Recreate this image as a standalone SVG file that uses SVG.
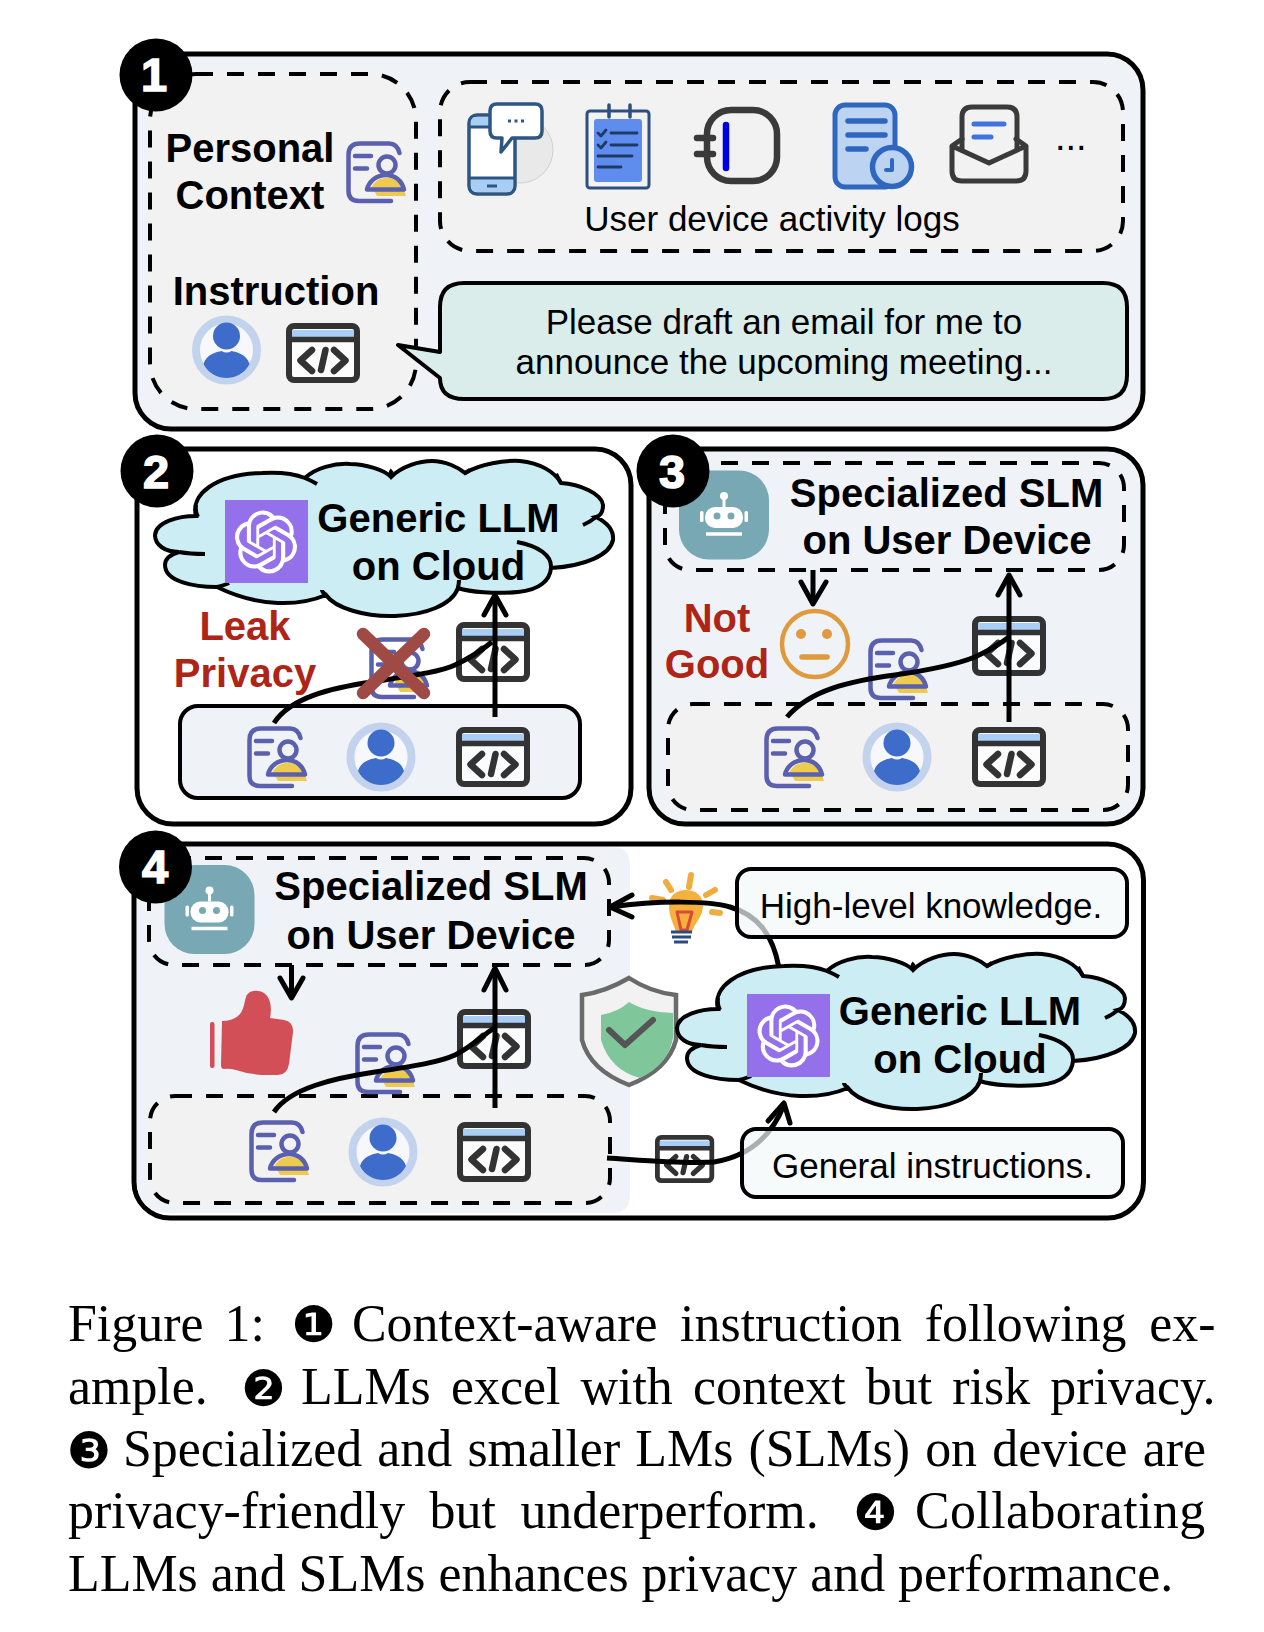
<svg xmlns="http://www.w3.org/2000/svg" width="1264" height="1632" viewBox="0 0 1264 1632">
<style>
.panel{stroke:#000;stroke-width:5}
.dash{stroke:#000;stroke-width:4;stroke-dasharray:17 14;fill:none}
.b{font:bold 40px "Liberation Sans",Arial,sans-serif;fill:#000;text-anchor:middle}
.r{font:35px "Liberation Sans",Arial,sans-serif;fill:#000;text-anchor:middle}
.red{fill:#ae2417}
.num{font:bold 47px "Liberation Sans",Arial,sans-serif;fill:#fff;stroke:#fff;stroke-width:1.5;text-anchor:middle}
.cap{font:51.9px "Liberation Serif","Times New Roman",serif;fill:#000}
.cir{font:50px "DejaVu Sans",sans-serif;fill:#000}
.con{fill:none;stroke:#000;stroke-width:5}
.arr{fill:none;stroke:#000;stroke-width:5;stroke-linecap:round;stroke-linejoin:round}
.ln{fill:none;stroke-linecap:round;stroke-linejoin:round}
</style>
<defs>
<g id="persona">
<path d="M27 48 C31 40 36 37 42 37 C50 37 57 44 60 55 H31 Z" fill="#eecb4d"/>
<path class="ln" d="M53.500 12 C52 6 48 2.500 43 2.500 H14 Q2.500 2.500 2.500 14 V50 Q2.500 60 13 60 H45" stroke="#5b60ae" stroke-width="4.500"/>
<path class="ln" d="M9 15 H25 M9 27.500 H21" stroke="#5b60ae" stroke-width="4.500"/>
<circle cx="41" cy="24" r="8.500" fill="none" stroke="#5b60ae" stroke-width="4.500"/>
<path d="M25 47 C28 41 33 37 40 37 C47 37 52 41 55 47 Z" fill="#eecb4d"/>
<path class="ln" d="M21 48.500 C23 40 31 34 40 34 C49 34 56 40 58 48.500 Z" fill="none" stroke="#5b60ae" stroke-width="4.500"/>
</g>
<g id="person">
<circle r="30.500" fill="#f7f8fb" stroke="#c3d3ee" stroke-width="8"/>
<circle cy="-14" r="13.500" fill="#3e6ccb"/>
<path d="M-23 14 C-20 4 -10 2 -5 1 Q0 4 5 1 C10 2 20 4 23 14 C18 24 8 28 0 28 C-8 28 -18 24 -23 14Z" fill="#3e6ccb"/>
</g>
<g id="code">
<rect x="3" y="3" width="68" height="54" rx="5" fill="#fff" fill-opacity=".75" stroke="#333" stroke-width="6"/>
<rect x="6" y="7" width="62" height="7" fill="#a9cef5"/>
<path d="M3 16.500 H71" stroke="#333" stroke-width="5.500"/>
<path class="ln" d="M26 27 L14.500 37.500 L26 48 M48 27 L59.500 37.500 L48 48" stroke="#333" stroke-width="6.500"/>
<path class="ln" d="M39.500 27 L35 47" stroke="#333" stroke-width="6.500"/>
</g>
<g id="cloud">
<path d="M155 535 C156 522 178 516 196 516 C190 495 215 474 262 473 C280 472 295 474 305 478 C315 468 335 463 350 464 C365 464 385 470 391 477 C402 466 420 461 432 461 C445 461 458 467 465 473 C480 464 505 460 520 461 C540 463 555 472 561 483 C580 484 602 494 603 505 C603 512 600 516 596 517 C606 522 614 530 613 540 C610 555 585 566 551 568 C550 580 540 590 518 592 C495 594 470 592 458 588 C452 605 425 615 395 616 C365 617 335 608 326 595 C300 606 260 608 217 587 C195 587 165 582 165 565 C165 558 172 554 179 552 C165 552 155 545 155 535Z" fill="#cdedf4" stroke="#000" stroke-width="4"/>
<path d="M196 505 Q195 512 198 517 M305 478 Q312 481 317 484 M391 477 Q390 472 392 470 M465 473 L470 470 M561 483 Q558 478 556 474 M596 517 Q590 522 583 525 M551 568 C552 555 538 546 517 542 M458 588 Q459 583 459 580 M326 595 Q322 592 322 590 M217 587 Q225 585 229 583 M179 552 Q190 554 205 554" fill="none" stroke="#000" stroke-width="4"/>
</g>
<g id="oai">
<path transform="scale(2.620) translate(-12 -12)" fill="#fff" d="M22.2819 9.8211a5.9847 5.9847 0 0 0-.5157-4.9108 6.0462 6.0462 0 0 0-6.5098-2.9A6.0651 6.0651 0 0 0 4.9807 4.1818a5.9847 5.9847 0 0 0-3.9977 2.9 6.0462 6.0462 0 0 0 .7427 7.0966 5.98 5.98 0 0 0 .511 4.9107 6.051 6.051 0 0 0 6.5146 2.9001A5.9847 5.9847 0 0 0 13.2599 24a6.0557 6.0557 0 0 0 5.7718-4.2058 5.9894 5.9894 0 0 0 3.9977-2.9001 6.0557 6.0557 0 0 0-.7475-7.0729zm-9.022 12.6081a4.4755 4.4755 0 0 1-2.8764-1.0408l.1419-.0804 4.7783-2.7582a.7948.7948 0 0 0 .3927-.6813v-6.7369l2.02 1.1686a.071.071 0 0 1 .038.052v5.5826a4.504 4.504 0 0 1-4.4945 4.4944zm-9.6607-4.1254a4.4708 4.4708 0 0 1-.5346-3.0137l.142.0852 4.783 2.7582a.7712.7712 0 0 0 .7806 0l5.8428-3.3685v2.3324a.0804.0804 0 0 1-.0332.0615L9.74 19.9502a4.4992 4.4992 0 0 1-6.1408-1.6464zM2.3408 7.8956a4.485 4.485 0 0 1 2.3655-1.9728V11.6a.7664.7664 0 0 0 .3879.6765l5.8144 3.3543-2.0201 1.1685a.0757.0757 0 0 1-.071 0l-4.8303-2.7865A4.504 4.504 0 0 1 2.3408 7.872zm16.5963 3.8558L13.1038 8.364 15.1192 7.2a.0757.0757 0 0 1 .071 0l4.8303 2.7913a4.4944 4.4944 0 0 1-.6765 8.1042v-5.6772a.79.79 0 0 0-.407-.667zm2.0107-3.0231l-.142-.0852-4.7735-2.7818a.7759.7759 0 0 0-.7854 0L9.409 9.2297V6.8974a.0662.0662 0 0 1 .0284-.0615l4.8303-2.7866a4.4992 4.4992 0 0 1 6.6802 4.66zM8.3065 12.863l-2.02-1.1638a.0804.0804 0 0 1-.038-.0567V6.0742a4.4992 4.4992 0 0 1 7.3757-3.4537l-.142.0805L8.704 5.459a.7948.7948 0 0 0-.3927.6813zm1.0976-2.3654l2.602-1.4998 2.6069 1.4998v2.9994l-2.5974 1.4997-2.6067-1.4997Z"/>
</g>
<g id="robot">
<rect x="-45" y="-44.500" width="90" height="89" rx="30" fill="#78a8b3"/>
<circle cy="-19" r="4" fill="#fff"/>
<path d="M0 -17 V-8" stroke="#fff" stroke-width="3"/>
<rect x="-19" y="-8" width="38" height="21" rx="10" fill="#fff"/>
<circle cx="-7" cy="1" r="3.500" fill="#78a8b3"/>
<circle cx="7" cy="1" r="3.500" fill="#78a8b3"/>
<rect x="-24" y="-4" width="3.500" height="11" rx="1.500" fill="#fff"/>
<rect x="20.500" y="-4" width="3.500" height="11" rx="1.500" fill="#fff"/>
<path d="M-18 19 H18" stroke="#fff" stroke-width="3.500"/>
</g>
</defs>

<g id="panel-1">
<rect class="panel" x="135" y="54" width="1008" height="375" rx="36" fill="#eff3f8"/>
<rect class="dash" x="150" y="74" width="266" height="335" rx="46" style="fill:#f2f2f2"/>
<rect class="dash" x="440" y="82" width="683" height="169" rx="30" style="fill:#f2f2f2"/>
<text class="b" x="250" y="162">Personal</text>
<text class="b" x="250" y="209">Context</text>
<text class="b" x="276" y="305">Instruction</text>
<use href="#persona" x="346" y="141"/>
<use href="#person" x="226.500" y="350"/>
<use href="#code" x="286" y="323"/>
</g>
<g id="logs-icons">
<circle cx="520" cy="150" r="33" fill="#e9e9e9" stroke="#d0d0d0"/>
<rect x="469" y="115" width="46" height="79" rx="8" fill="#fff" stroke="#2d5682" stroke-width="3.500"/>
<path d="M471 126 V122 Q471 117 476 117 H491 V126 Z M471 179 H513 V186 Q513 192 507 192 H477 Q471 192 471 186 Z" fill="#a9cef5"/>
<path d="M469 127 H491 M469 178 H515 M487 186 H497" stroke="#2d5682" stroke-width="3"/>
<path d="M497 104 H535 Q542 104 542 111 V131 Q542 138 535 138 H512 L501 152 L502 138 H497 Q490 138 490 131 V111 Q490 104 497 104 Z" fill="#fff" stroke="#2d5682" stroke-width="3.500" stroke-linejoin="round"/>
<path d="M508 121 H525" stroke="#2d5682" stroke-width="3" stroke-dasharray="3 3.500"/>
<rect x="587" y="111" width="62" height="77" rx="3" fill="#f2f2f2" stroke="#2d4f7e" stroke-width="3"/>
<rect x="594" y="119" width="48" height="63" rx="3" fill="#5f8ded"/>
<path class="ln" d="M609 105 V117 M630 105 V117" stroke="#2d4f7e" stroke-width="3.500"/>
<path class="ln" d="M611 133 H637 M611 145 H637 M598 156 H632 M598 167 H621 M598 133 L601 136 L606 130 M598 145 L601 148 L606 142" stroke="#1f3a66" stroke-width="2.800"/>
<rect x="707" y="110" width="70" height="71" rx="24" fill="none" stroke="#3a3a3a" stroke-width="6.500"/>
<path class="ln" d="M697 138 H713 M697 154 H713" stroke="#3a3a3a" stroke-width="6.500"/>
<path class="ln" d="M726 125 V168" stroke="#0000e0" stroke-width="6.500"/>
<rect x="835" y="105" width="60" height="82" rx="10" fill="#bcd3f2" stroke="#2f67bf" stroke-width="5"/>
<path class="ln" d="M848 121 H885 M848 135 H885 M848 149 H866" stroke="#2f67bf" stroke-width="5.500"/>
<circle cx="892" cy="167" r="19.500" fill="#bcd3f2" stroke="#2f67bf" stroke-width="5.500"/>
<path class="ln" d="M892 160 V170 H886" stroke="#2f67bf" stroke-width="4"/>
<path class="ln" d="M962 139 L952 146 V171 Q952 181 962 181 H1016 Q1026 181 1026 171 V146 L1016 139 M952 146 L989 163 L1026 146" stroke="#3a3a3a" stroke-width="5"/>
<path class="ln" d="M962 150 V117 Q962 107 972 107 H1007 Q1017 107 1017 117 V150" stroke="#3a3a3a" stroke-width="5"/>
<path class="ln" d="M974 124 H1004 M974 137 H991" stroke="#3f74e0" stroke-width="5"/>
<text x="1055" y="150" style="font:38px 'Liberation Sans',sans-serif" fill="#000">...</text>
<text class="r" x="772" y="231">User device activity logs</text>
</g>
<g id="speech-bubble">
<path d="M464 283 H1103 Q1127 283 1127 307 V375 Q1127 399 1103 399 H464 Q440 399 440 378 L398 345 L440 352 V307 Q440 283 464 283 Z" fill="#daedea" stroke="#000" stroke-width="4" stroke-linejoin="round"/>
<text class="r" x="784" y="334">Please draft an email for me to</text>
<text class="r" x="784" y="374">announce the upcoming meeting...</text>
</g>

<g id="panel-2">
<rect class="panel" x="137" y="449" width="494" height="375" rx="36" fill="#fff"/>
<rect x="180" y="706" width="400" height="92" rx="18" fill="#eff3f8" stroke="#000" stroke-width="4"/>
<use href="#persona" x="247" y="726"/>
<use href="#person" x="381" y="757"/>
<use href="#code" x="456" y="727"/>
<use href="#persona" x="369" y="637"/>
<use href="#code" x="456" y="622"/>
</g>
<g id="panel-3">
<rect class="panel" x="649" y="449" width="494" height="375" rx="36" fill="#eff3f8"/>
<rect class="dash" x="665" y="463" width="459" height="107" rx="25"/>
<use href="#robot" x="724" y="515"/>
<text class="b" x="946.500" y="507">Specialized SLM</text>
<text class="b" x="947" y="554">on User Device</text>
<text class="b red" x="717" y="632">Not</text>
<text class="b red" x="717" y="678">Good</text>
<circle cx="815" cy="644" r="33" fill="none" stroke="#e09a3e" stroke-width="4.500"/>
<circle cx="801" cy="634" r="5" fill="#e09a3e"/>
<circle cx="827" cy="634" r="5" fill="#e09a3e"/>
<path class="ln" d="M802 657 H827" stroke="#e09a3e" stroke-width="5.500"/>
<rect class="dash" x="668" y="704" width="460" height="106" rx="25" style="fill:#f2f2f2"/>
<use href="#persona" x="764" y="726"/>
<use href="#person" x="897" y="757"/>
<use href="#code" x="972" y="727"/>
<use href="#persona" x="868" y="638"/>
<use href="#code" x="972" y="616"/>
</g>
<g id="panel-4">
<rect class="panel" x="134" y="844" width="1009.500" height="374" rx="36" fill="#fff"/>
<path d="M137 847 H612 Q630 847 630 865 V1195 Q630 1213 612 1213 H170 Q137 1213 137 1180 Z" fill="#eff3f8"/>
<rect class="dash" x="149" y="858" width="460" height="107" rx="25"/>
<use href="#robot" x="209.500" y="909.500"/>
<text class="b" x="431" y="900">Specialized SLM</text>
<text class="b" x="431" y="949">on User Device</text>
<path d="M222 1021 Q232 1021 238 1016 C244 1011 244 1003 246 997 C248 990 258 989 264 993 C271 998 272 1008 270 1018 L284 1020 Q294 1022 293 1032 L289 1064 Q287 1075 278 1075 H269 Q250 1075 236 1070 Q228 1068 224 1069 Q221 1069 221 1065 Z" fill="#d34f57"/>
<rect x="210" y="1022" width="4.500" height="46" rx="2" fill="#d34f57"/>
<rect class="dash" x="150" y="1096" width="460" height="107" rx="25" style="fill:#f2f2f2"/>
<use href="#persona" x="249" y="1120"/>
<use href="#person" x="383" y="1152"/>
<use href="#code" x="457" y="1122"/>
<use href="#persona" x="355" y="1032"/>
<use href="#code" x="457" y="1009"/>
</g>
<g id="shield">
<path d="M629 978 Q605 992 582 995 V1040 Q590 1070 629 1085 Q668 1070 676 1040 V995 Q650 992 629 978 Z" fill="#f2f2f2" stroke="#6a6a6a" stroke-width="4.500"/>
<path d="M601 1015 Q618 1012 629 1002 Q645 1012 673 1013 V1038 Q668 1065 640 1078 Q610 1070 601 1040 Z" fill="#7fc79b"/>
<path class="ln" d="M609 1030 L625 1045 L653 1020" stroke="#555" stroke-width="6"/>
</g>
<g id="bulb">
<path class="ln" d="M666 882 L671 890 M691 875 L689 887 M715 890 L706 895 M652 898 L663 900 M712 912 L720 913" stroke="#f0ad3e" stroke-width="6"/>
<path d="M669 905 C669 885 703 885 703 905 C703 917 695 922 692 932 H676 C673 922 669 917 669 905 Z" fill="#f5b13c"/>
<path class="ln" d="M677 912 H692 L687 930 H681 Z" stroke="#d94a3a" stroke-width="3"/>
<path d="M671 932 H692 M672 937 H691 M674 942 H688" stroke="#2b4a80" stroke-width="3"/>
</g>
<g id="small-code">
<use href="#code" transform="translate(655 1135) scale(.8)"/>
</g>

<g id="connectors">
<path class="con" d="M274 723 C290 698 330 688 372 682 C410 676 440 672 455 665 C470 658 482 650 492 642"/>
<path class="con" d="M495 717 V595"/>
<path class="arr" d="M484 615 L495 595 L506 615"/>
<path class="con" d="M787 717 C810 690 850 681 895 675 C930 670 955 665 975 657 C990 650 1000 644 1009 637"/>
<path class="con" d="M1009 722 V577"/>
<path class="arr" d="M998 595 L1009 575 L1020 595"/>
<path class="con" d="M813 570 V602"/>
<path class="arr" d="M801 582 L813 604 L826 582"/>
<path class="con" d="M274 1112 C290 1088 335 1078 375 1072 C415 1066 440 1062 455 1055 C470 1048 482 1036 494 1028"/>
<path class="con" d="M495 1108 V970"/>
<path class="arr" d="M484 990 L495 968 L506 990"/>
<path class="con" d="M291.500 965 V996"/>
<path class="arr" d="M280 978 L291.500 998 L303 978"/>
<path class="con" d="M779 968 C773 935 758 915 730 907 C710 901 660 900 611 907"/>
<path class="arr" d="M632 895 L610 907 L632 917"/>
<path class="con" d="M607 1158 C640 1160 680 1164 714 1162 C745 1157 770 1140 784 1105"/>
<path class="arr" d="M768 1121 L784 1103 L790 1123"/>
</g>

<g id="cloud-2">
<use href="#cloud"/>
<rect x="225" y="500" width="83" height="83" fill="#9470ea"/>
<use href="#oai" x="266" y="542"/>
<text class="b" x="438.500" y="532">Generic LLM</text>
<text class="b" x="438.500" y="580">on Cloud</text>
</g>
<g id="leak">
<text class="b red" x="245" y="640">Leak</text>
<text class="b red" x="245" y="687">Privacy</text>
<path class="ln" d="M363 634 L424 693 M424 634 L363 693" stroke="#a04a45" stroke-width="12.500"/>
</g>
<g id="cloud-4">
<use href="#cloud" x="522" y="493"/>
<rect x="747" y="994" width="83" height="83" fill="#9470ea"/>
<use href="#oai" x="788.500" y="1036"/>
<text class="b" x="960" y="1025">Generic LLM</text>
<text class="b" x="960" y="1073">on Cloud</text>
</g>
<g id="box-high">
<rect x="737" y="869" width="390" height="68" rx="14" fill="#f3f8fa" fill-opacity=".7" stroke="#000" stroke-width="4"/>
<text class="r" x="931" y="918">High-level knowledge.</text>
</g>
<g id="box-general">
<rect x="742" y="1129" width="381" height="68" rx="14" fill="#f3f8fa" fill-opacity=".7" stroke="#000" stroke-width="4"/>
<text class="r" x="932.500" y="1178">General instructions.</text>
</g>

<g id="badge-1"><circle cx="156" cy="75" r="36.500"/><text class="num" x="154" y="91">1</text></g>
<g id="badge-2"><circle cx="157" cy="471" r="36.500"/><text class="num" x="156" y="488">2</text></g>
<g id="badge-3"><circle cx="673" cy="471" r="36.500"/><text class="num" x="672" y="488">3</text></g>
<g id="badge-4"><circle cx="155.500" cy="867" r="36.500"/><text class="num" x="155" y="883">4</text></g>

<g id="caption">
<text class="cap" x="68" y="1340.500" word-spacing="8">Figure 1:</text>
<text class="cir" x="291" y="1342">❶</text>
<text class="cap" x="352" y="1340.500" word-spacing="9.700">Context-aware instruction following ex-</text>
<text class="cap" x="68" y="1404">ample.</text>
<text class="cir" x="241" y="1405.500">❷</text>
<text class="cap" x="301" y="1404" word-spacing="7.200">LLMs excel with context but risk privacy.</text>
<text class="cir" x="66.500" y="1467.500">❸</text>
<text class="cap" x="123" y="1466" word-spacing="2.200">Specialized and smaller LMs (SLMs) on device are</text>
<text class="cap" x="68" y="1528" word-spacing="11.500">privacy-friendly but underperform.</text>
<text class="cir" x="853" y="1529.500">❹</text>
<text class="cap" x="915" y="1528" style="letter-spacing:.4px">Collaborating</text>
<text class="cap" x="68" y="1590.500">LLMs and SLMs enhances privacy and performance.</text>
</g>
</svg>
